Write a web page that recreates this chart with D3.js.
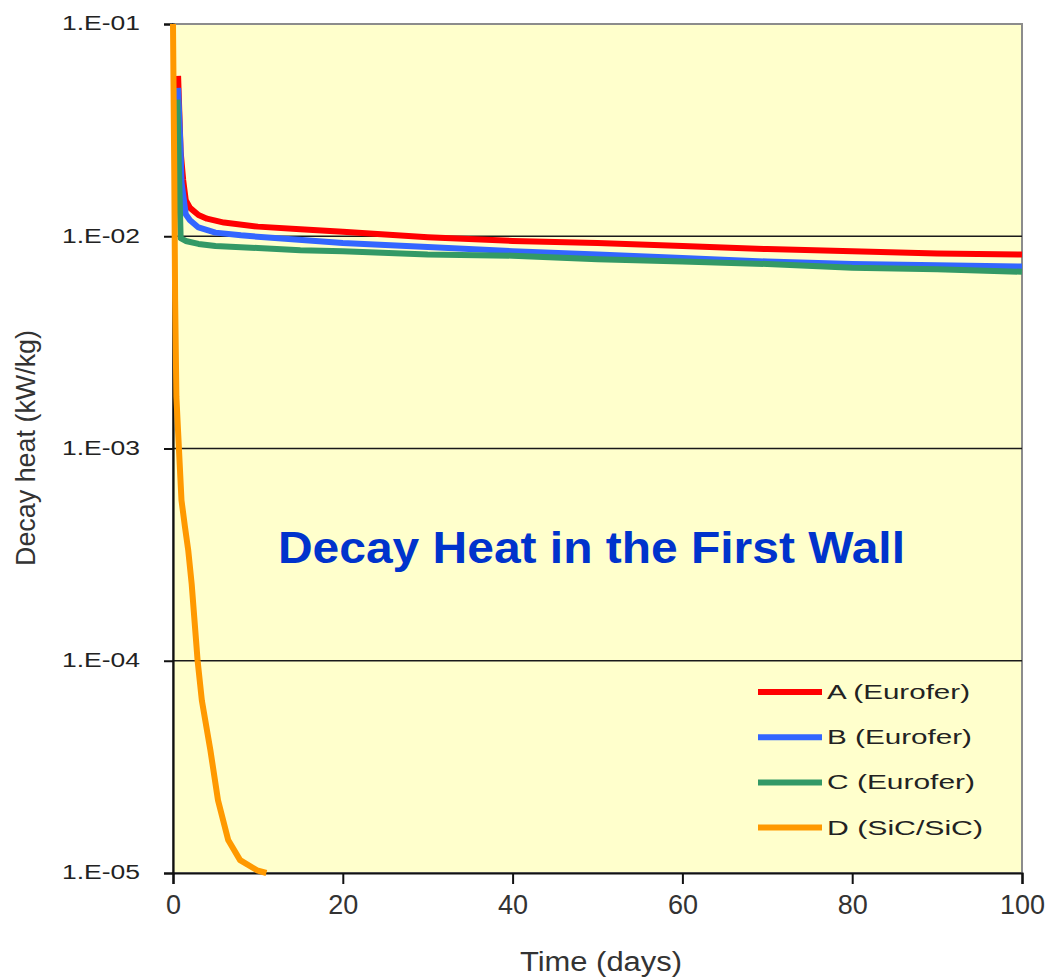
<!DOCTYPE html>
<html>
<head>
<meta charset="utf-8">
<script src="https://cdn.jsdelivr.net/npm/d3@7/dist/d3.min.js"></script>
<style>
  html, body { margin: 0; padding: 0; background: #ffffff; }
  svg { display: block; font-family: "Liberation Sans", Arial, sans-serif; }
</style>
</head>
<body>
<svg id="chart" width="1053" height="977"></svg>
<script>
// Decay heat (kW/kg) versus cooling time (days) for four first-wall materials
const seriesNames = ["A (Eurofer)", "B (Eurofer)", "C (Eurofer)", "D (SiC/SiC)"];
const seriesColors = ["#ff0000", "#3366ff", "#339966", "#ff9900"];

const timeA = [0.6, 0.9, 1.2, 1.5, 2, 3, 4, 6, 10, 15, 20, 30, 40, 50, 60, 70, 80, 90, 100];
const heatA = [0.057, 0.025, 0.0184, 0.0148, 0.0136, 0.0126, 0.0121, 0.0116, 0.0111, 0.0108, 0.0105,
               0.0099, 0.0095, 0.0093, 0.0090, 0.0087, 0.0085, 0.0083, 0.0082];

const timeB = [0.6, 0.9, 1.0, 1.5, 2, 3, 5, 8, 12, 20, 30, 40, 50, 60, 70, 80, 90, 100];
const heatB = [0.050, 0.025, 0.018, 0.0127, 0.0119, 0.0110, 0.0104, 0.0101, 0.0098, 0.0093,
               0.0089, 0.0085, 0.0082, 0.0079, 0.0076, 0.0074, 0.0073, 0.0072];

const timeC = [0.5, 0.9, 1.5, 3, 5, 10, 15, 20, 30, 40, 50, 60, 70, 80, 90, 100];
const heatC = [0.044, 0.0098, 0.0095, 0.0092, 0.0090, 0.0088, 0.0086, 0.0085, 0.0082, 0.0081,
               0.0078, 0.0076, 0.0074, 0.0071, 0.0070, 0.0068];

const timeD = [0, 0.15, 0.25, 0.4, 0.6, 1.0, 1.4, 1.8, 2.2, 2.9, 3.4, 4.4, 5.3, 6.5, 7.9, 9.9, 11];
const heatD = [0.1, 0.02, 0.005, 0.00175, 0.0012, 0.00057, 0.00043, 0.00033, 0.00023, 0.0001,
               0.000065, 0.000038, 0.000022, 0.0000143, 0.0000115, 0.0000103, 0.00001];

const xTicks = [0, 20, 40, 60, 80, 100];
const yTicks = [1e-1, 1e-2, 1e-3, 1e-4, 1e-5];
const yTickLabels = ["1.E-01", "1.E-02", "1.E-03", "1.E-04", "1.E-05"];
const gridValues = [1e-2, 1e-3, 1e-4];

const chartTitle = "Decay Heat in the First Wall";
const xTitle = "Time (days)";
const yTitle = "Decay heat (kW/kg)";

const series = [
  { name: seriesNames[0], color: seriesColors[0], t: timeA, v: heatA },
  { name: seriesNames[1], color: seriesColors[1], t: timeB, v: heatB },
  { name: seriesNames[2], color: seriesColors[2], t: timeC, v: heatC },
  { name: seriesNames[3], color: seriesColors[3], t: timeD, v: heatD }
];

const plot = { left: 173, right: 1022, top: 24, bottom: 873 };

const x = d3.scaleLinear().domain([0, 100]).range([plot.left, plot.right]);
const y = d3.scaleLog().domain([1e-5, 1e-1]).range([plot.bottom, plot.top]);

const svg = d3.select("#chart");

// plot area background and frame
svg.append("rect")
  .attr("x", plot.left).attr("y", plot.top)
  .attr("width", plot.right - plot.left).attr("height", plot.bottom - plot.top)
  .attr("fill", "#ffffcc")
  .attr("stroke", "#8c8c8c").attr("stroke-width", 2);

// horizontal gridlines
svg.append("g").selectAll("line").data(gridValues).join("line")
  .attr("x1", plot.left).attr("x2", plot.right)
  .attr("y1", d => y(d)).attr("y2", d => y(d))
  .attr("stroke", "#1a1a1a").attr("stroke-width", 1.6);

// axes
const xAxis = d3.axisBottom(x).tickValues(xTicks).tickSize(11).tickFormat(d3.format("d"));
const gx = svg.append("g").attr("transform", `translate(0,${plot.bottom})`).call(xAxis);
gx.select(".domain").attr("stroke", "#111").attr("stroke-width", 2.2);
gx.selectAll(".tick line").attr("stroke", "#111").attr("stroke-width", 2);
gx.selectAll(".tick text")
  .attr("y", 41).attr("dy", 0)
  .attr("font-size", 27).attr("fill", "#333")
  .attr("font-family", "'Liberation Sans', Arial, sans-serif");

const yAxis = d3.axisLeft(y).tickValues(yTicks).tickSize(9)
  .tickFormat((d, i) => yTickLabels[i]);
const gy = svg.append("g").attr("transform", `translate(${plot.left},0)`).call(yAxis);
gy.select(".domain").attr("stroke", "#111").attr("stroke-width", 2.2);
gy.selectAll(".tick line").attr("stroke", "#111").attr("stroke-width", 2);
gy.selectAll(".tick text")
  .attr("x", -33).attr("dy", "0.3em")
  .attr("font-size", 19.5).attr("fill", "#222")
  .attr("textLength", 78).attr("lengthAdjust", "spacingAndGlyphs")
  .attr("font-family", "'Liberation Sans', Arial, sans-serif");

// series lines
const line = d3.line().x(d => x(d[0])).y(d => y(d[1]));
svg.append("g").selectAll("path").data(series).join("path")
  .attr("d", s => line(s.t.map((t, i) => [t, s.v[i]])))
  .attr("fill", "none")
  .attr("stroke", s => s.color)
  .attr("stroke-width", 6)
  .attr("stroke-linejoin", "round");

// legend
const legendTop = 692, legendStep = 45.2;
const legend = svg.append("g");
const legendWidths = [143, 145, 148, 156];
series.forEach((s, i) => {
  const ly = legendTop + i * legendStep;
  legend.append("line")
    .attr("x1", 758).attr("x2", 822).attr("y1", ly).attr("y2", ly)
    .attr("stroke", s.color).attr("stroke-width", 6);
  legend.append("text")
    .attr("x", 827).attr("y", ly + 7)
    .attr("font-size", 20).attr("fill", "#222")
    .attr("textLength", legendWidths[i]).attr("lengthAdjust", "spacingAndGlyphs")
    .text(s.name);
});

// chart title inside the plot
svg.append("text")
  .attr("x", 278).attr("y", 563)
  .attr("font-size", 45).attr("font-weight", "bold").attr("fill", "#0033cc")
  .attr("textLength", 627).attr("lengthAdjust", "spacingAndGlyphs")
  .text(chartTitle);

// axis titles
svg.append("text")
  .attr("x", 601).attr("y", 971)
  .attr("text-anchor", "middle")
  .attr("font-size", 27).attr("fill", "#333")
  .attr("textLength", 162).attr("lengthAdjust", "spacingAndGlyphs")
  .text(xTitle);

svg.append("text")
  .attr("transform", "translate(35,448) rotate(-90)")
  .attr("text-anchor", "middle")
  .attr("font-size", 27).attr("fill", "#333")
  .attr("textLength", 236).attr("lengthAdjust", "spacingAndGlyphs")
  .text(yTitle);
</script>
</body>
</html>
